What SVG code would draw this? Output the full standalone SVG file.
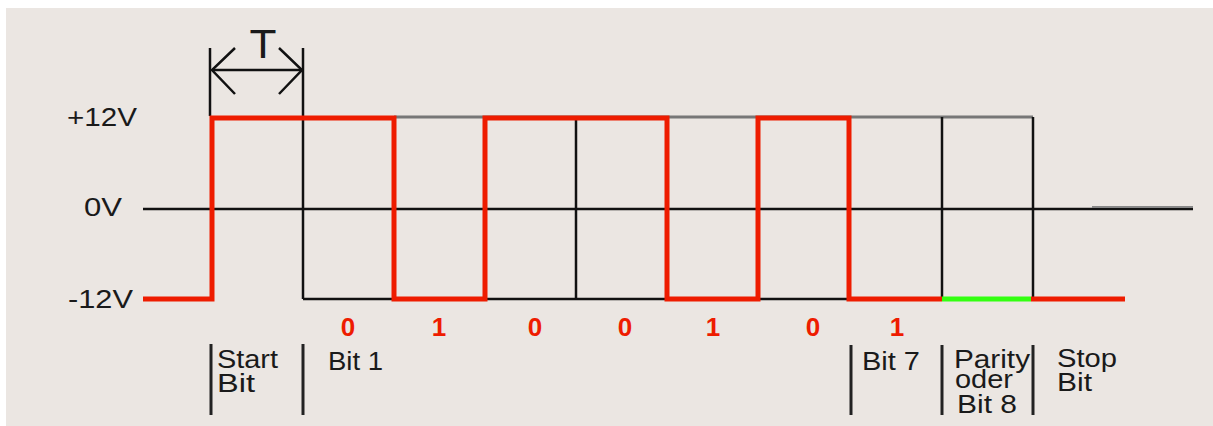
<svg xmlns="http://www.w3.org/2000/svg" width="1213" height="426" viewBox="0 0 1213 426">
<style>
.lbl{font-family:"Liberation Sans",Arial,sans-serif;font-size:25px;fill:#1a1a1a}
.bit{font-family:"Liberation Sans",Arial,sans-serif;font-size:26px;font-weight:bold;fill:#ee1c00;text-anchor:middle}
.grid{stroke:#111;stroke-width:2.5;fill:none}
.sep{stroke:#222;stroke-width:3;fill:none}
.sig{stroke:#ee1c00;stroke-width:5;fill:none;stroke-linejoin:miter}
</style>
<rect x="0" y="0" width="1213" height="426" fill="#ffffff"/>
<rect x="6" y="8" width="1207" height="418" fill="#ebe6e2"/>
<g id="axes">
<line x1="143" y1="209" x2="1193" y2="209" class="grid"/>
<line x1="1092" y1="207" x2="1193" y2="207" stroke="#888" stroke-width="2"/>
<line x1="394" y1="117" x2="1033" y2="117" stroke="#777" stroke-width="3"/>
<line x1="303" y1="299" x2="940" y2="299" class="grid"/>
<line x1="576" y1="117" x2="576" y2="299" class="grid"/>
<line x1="942" y1="117" x2="942" y2="299" class="grid"/>
<line x1="1033" y1="117" x2="1033" y2="299" class="grid"/>
</g>
<g id="period-T">
<line x1="210" y1="48" x2="210" y2="116" class="grid"/>
<line x1="303" y1="48" x2="303" y2="299" class="grid"/>
<line x1="212" y1="70" x2="302" y2="70" class="grid"/>
<polyline points="235,48 212,70 235,94" class="grid"/>
<polyline points="279,48 302,70 279,94" class="grid"/>
<text x="263" y="58" font-family="Liberation Sans,Arial,sans-serif" font-size="40" text-anchor="middle" fill="#1a1a1a" textLength="27" lengthAdjust="spacingAndGlyphs">T</text>
</g>
<g id="voltage-labels">
<text class="lbl" x="67" y="126" textLength="70" lengthAdjust="spacingAndGlyphs">+12V</text>
<text class="lbl" x="84" y="216" textLength="38" lengthAdjust="spacingAndGlyphs">0V</text>
<text class="lbl" x="68" y="308" textLength="65" lengthAdjust="spacingAndGlyphs">-12V</text>
</g>
<g id="signal">
<polyline class="sig" points="143,299 212,299 212,118 394,118 394,299 485,299 485,118 667,118 667,299 758,299 758,118 849,118 849,299 942,299"/>
<line x1="942" y1="299" x2="1031" y2="299" stroke="#33ff11" stroke-width="5"/>
<line x1="1031" y1="299" x2="1125" y2="299" class="sig"/>
</g>
<g id="bit-values">
<text class="bit" x="348" y="336">0</text>
<text class="bit" x="439" y="336">1</text>
<text class="bit" x="535" y="336">0</text>
<text class="bit" x="625" y="336">0</text>
<text class="bit" x="713" y="336">1</text>
<text class="bit" x="813" y="336">0</text>
<text class="bit" x="897" y="336">1</text>
</g>
<g id="separators">
<line x1="211" y1="344" x2="211" y2="415" class="sep"/>
<line x1="303" y1="344" x2="303" y2="415" class="sep"/>
<line x1="851" y1="345" x2="851" y2="415" class="sep"/>
<line x1="942" y1="345" x2="942" y2="415" class="sep"/>
<line x1="1033" y1="345" x2="1033" y2="415" class="sep"/>
</g>
<g id="field-labels">
<text class="lbl" x="217" y="368" textLength="61" lengthAdjust="spacingAndGlyphs">Start</text>
<text class="lbl" x="217" y="392" textLength="38" lengthAdjust="spacingAndGlyphs">Bit</text>
<text class="lbl" x="328" y="370" textLength="55" lengthAdjust="spacingAndGlyphs">Bit 1</text>
<text class="lbl" x="862" y="370" textLength="58" lengthAdjust="spacingAndGlyphs">Bit 7</text>
<text class="lbl" x="954" y="368" textLength="76" lengthAdjust="spacingAndGlyphs">Parity</text>
<text class="lbl" x="955" y="388" textLength="58" lengthAdjust="spacingAndGlyphs">oder</text>
<text class="lbl" x="957" y="413" textLength="60" lengthAdjust="spacingAndGlyphs">Bit 8</text>
<text class="lbl" x="1057" y="367" textLength="60" lengthAdjust="spacingAndGlyphs">Stop</text>
<text class="lbl" x="1057" y="391" textLength="35" lengthAdjust="spacingAndGlyphs">Bit</text>
</g>
</svg>
